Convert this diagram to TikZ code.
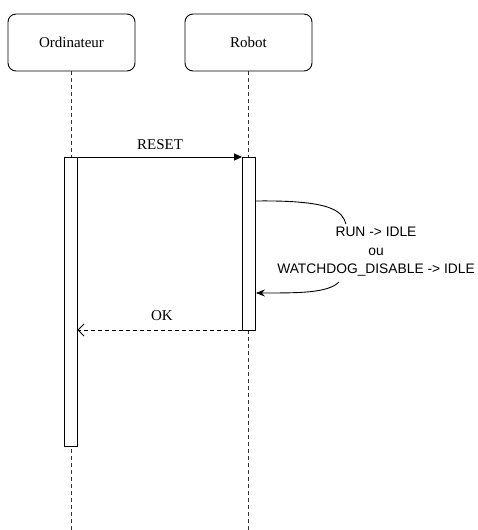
\documentclass[tikz,border=0pt]{standalone}
\usepackage{fontspec}
\setmainfont{Liberation Serif}
\newfontfamily\lsans{Liberation Sans}
\usetikzlibrary{arrows.meta}
\begin{document}
\begin{tikzpicture}[x=1pt,y=-1pt,
  actor/.style={draw,rounded corners=8pt,line width=0.9pt,minimum width=127pt,minimum height=57pt,inner sep=0pt,font=\fontsize{15}{18}\selectfont},
  lifeline/.style={line width=0.9pt,dash pattern=on 4pt off 3pt,draw=black!80},
  activ/.style={draw,fill=white,line width=0.9pt,minimum width=13pt,inner sep=0pt},
  msg/.style={line width=0.9pt},
  lbl/.style={font=\fontsize{15}{18}\selectfont,inner sep=0pt},
  slbl/.style={font=\lsans\fontsize{13.8}{18.5}\selectfont,align=center,inner sep=0pt}
]
\useasboundingbox (0,0) rectangle (478,530);
% actors
\node[actor] (ord) at (71.5,42.5) {Ordinateur};
\node[actor] (rob) at (248.5,42.5) {Robot};
% lifeline ends
\coordinate (ordend) at (71,530);
\coordinate (robend) at (248,530);
\draw[lifeline] (ord.south -| ordend) -- (ordend);
\draw[lifeline] (rob.south -| robend) -- (robend);
% activations
\node[activ,minimum height=289pt] (ordact) at (70.5,301.5) {};
\node[activ,minimum height=173pt] (robact) at (249,243.5) {};
% RESET
\coordinate (r1) at (77,157);
\draw[msg,-{Triangle[length=8pt,width=7pt]}] (ordact.east |- r1) -- (robact.west |- r1);
\node[lbl] (reset) at (160,145) {RESET};
% self message
\node[slbl] (self) at (376,252) {RUN -> IDLE\\ou\\WATCHDOG\_DISABLE -> IDLE};
\coordinate (s1) at (256,201);
\coordinate (s2) at (346,224);
\coordinate (s3) at (339,282);
\coordinate (s4) at (262,293);
\draw[msg] (robact.east |- s1) .. controls (335,200) and (342,212) .. (s2);
\draw[msg,-{Stealth[length=9pt,width=7pt,inset=3pt]}] (s3) .. controls (328,293) and (300,293) .. (robact.east |- s4);
% OK
\coordinate (o1) at (242,330);
\draw[msg,dashed,dash pattern=on 4pt off 3pt,-{Straight Barb[length=6pt,width=12pt]}] (robact.west |- o1) -- (ordact.east |- o1);
\node[lbl] (ok) at (162,316) {OK};
\end{tikzpicture}
\end{document}
